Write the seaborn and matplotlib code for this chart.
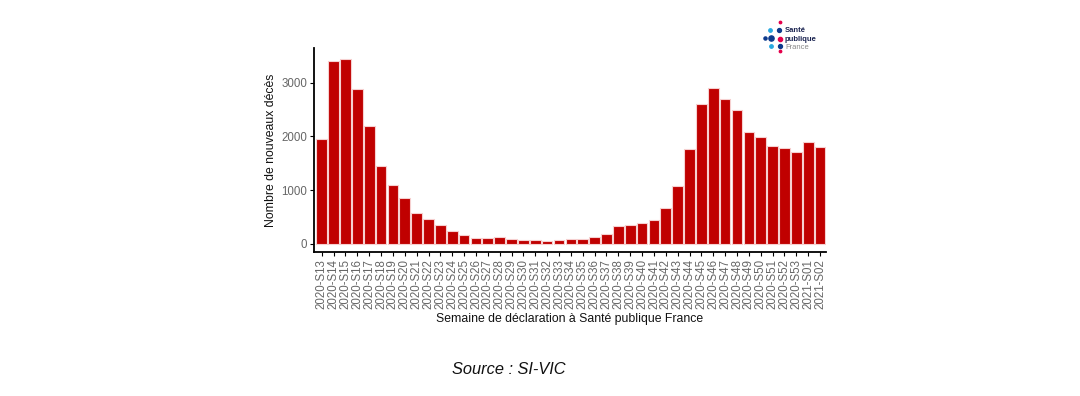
import matplotlib
matplotlib.use("Agg")
from matplotlib import pyplot as plt
import numpy as np
import pandas as pd
import seaborn as sns

# semaines de declaration
semaines = ["2020-S%d" % s for s in range(13, 54)] + ["2021-S01", "2021-S02"]
# nombre de nouveaux deces
deces = [1960, 3400, 3450, 2890, 2200, 1445, 1095, 857, 576, 469,
         345, 232, 169, 113, 100, 120, 82, 69, 69, 50,
         75, 88, 88, 120, 176, 326, 345, 394, 450, 664,
         1077, 1758, 2596, 2902, 2690, 2490, 2090, 1996, 1820, 1790,
         1707, 1895, 1795]

df = pd.DataFrame({"semaine": semaines, "deces": deces})

sns.set_style("white")
plt.rcParams["font.family"] = ["Liberation Sans", "DejaVu Sans"]

fig = plt.figure(figsize=(10.8, 3.96), dpi=100)
ax = fig.add_axes([314 / 1080, 1 - 252 / 396, (826 - 314) / 1080, (252 - 48) / 396])

sns.barplot(data=df, x="semaine", y="deces", color="#c00000", saturation=1,
            edgecolor="#f6d0d0", linewidth=0.8, width=0.9, ax=ax)

ax.set_xlim(-0.65, 42.5)
ax.set_ylim(-156, 3650)
ax.set_yticks([0, 1000, 2000, 3000])
ax.tick_params(axis="x", rotation=90, labelsize=8.3, labelcolor="#666666",
               length=3, width=0.8, color="black", pad=2, bottom=True)
ax.tick_params(axis="y", labelsize=8.3, labelcolor="#666666",
               length=3, width=0.8, color="black", pad=2, left=True)
for s in ["top", "right"]:
    ax.spines[s].set_visible(False)
for s in ["left", "bottom"]:
    ax.spines[s].set_color("black")
    ax.spines[s].set_linewidth(1.3)

ax.set_xlabel("Semaine de déclaration à Santé publique France", fontsize=8.8, color="#111111", labelpad=3)
ax.set_ylabel("Nombre de nouveaux décès", fontsize=8.8, color="#111111", labelpad=3)

# source
fig.text(452 / 1080, 1 - 370 / 396, "Source : SI-VIC", fontsize=11.8, style="italic",
         va="center", ha="left", color="#111111")

# logo Sante publique France
dots = [(780, 21.7, "#e4004b", 3), (770, 30, "#29a9e0", 6), (779.3, 30, "#0d3a8c", 8),
        (765, 38.3, "#0d3a8c", 5), (771, 38.3, "#0d3a8c", 14), (780, 39, "#e4004b", 9),
        (770.7, 46, "#29a9e0", 6), (780, 46, "#0d3a8c", 8), (780, 51, "#e4004b", 3)]
for x, y, c, s in dots:
    fig.add_artist(plt.Line2D([x / 1080], [1 - y / 396], marker="o", markersize=np.sqrt(s),
                              color=c, linestyle="none", transform=fig.transFigure))
fig.text(785 / 1080, 1 - 31 / 396, "Santé", fontsize=5.5, weight="bold", color="#1a2350", va="center")
fig.text(785 / 1080, 1 - 39.5 / 396, "publique", fontsize=5.5, weight="bold", color="#1a2350", va="center")
fig.text(785 / 1080, 1 - 47.5 / 396, "France", fontsize=5.5, color="#888888", va="center")

fig.savefig("out.png", dpi=100, facecolor="white")
